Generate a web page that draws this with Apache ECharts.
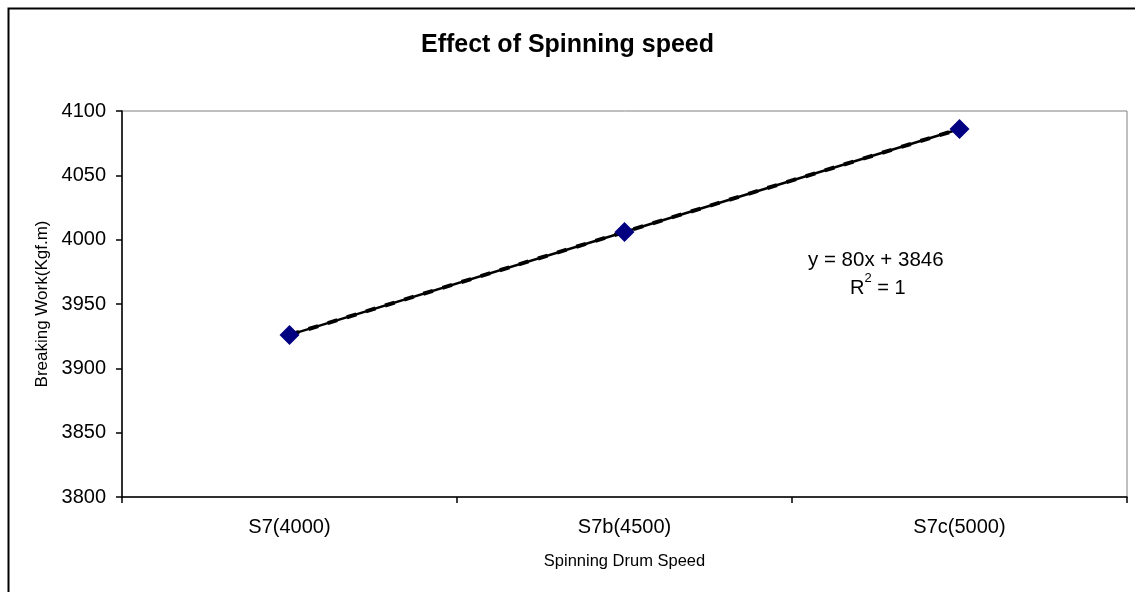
<!DOCTYPE html>
<html>
<head>
<meta charset="utf-8">
<script src="https://cdn.jsdelivr.net/npm/echarts@6/dist/echarts.min.js"></script>
<style>
html,body{margin:0;padding:0;background:#fff;}
#c{width:1135px;height:592px;}
</style>
</head>
<body>
<div id="c"></div>
<script>
var categories = ['S7(4000)', 'S7b(4500)', 'S7c(5000)'];
var breakingWork = [3926, 4006, 4086];
var trendValues = [3926, 4006, 4086];
var yTicks = [3800, 3850, 3900, 3950, 4000, 4050, 4100];

var chart = echarts.init(document.getElementById('c'), null, {renderer: 'canvas'});
var FONT = '"Liberation Sans", Arial, sans-serif';
chart.setOption({
  backgroundColor: '#ffffff',
  animation: false,
  title: {
    text: 'Effect of Spinning speed',
    left: 'center',
    top: 28,
    textStyle: {fontFamily: FONT, fontSize: 25, fontWeight: 'bold', color: '#000'}
  },
  grid: {
    left: 122, top: 111, right: 8, bottom: 95,
    show: true, borderColor: '#808080', borderWidth: 1, backgroundColor: '#fff'
  },
  xAxis: {
    type: 'category',
    data: categories,
    boundaryGap: true,
    name: 'Spinning Drum Speed',
    nameLocation: 'middle',
    nameGap: 56,
    nameTextStyle: {fontFamily: FONT, fontSize: 16.5, color: '#000'},
    axisLine: {lineStyle: {color: '#000', width: 1.5}},
    axisTick: {show: true, alignWithLabel: false, inside: false, length: 6, lineStyle: {color: '#000', width: 1.5}},
    axisLabel: {fontFamily: FONT, fontSize: 20, color: '#000', margin: 20},
    splitLine: {show: false}
  },
  yAxis: {
    type: 'value',
    min: yTicks[0],
    max: yTicks[yTicks.length - 1],
    interval: 50,
    name: 'Breaking Work(Kgf.m)',
    nameLocation: 'middle',
    nameGap: 71,
    nameRotate: 90,
    nameTextStyle: {fontFamily: FONT, fontSize: 17, color: '#000'},
    axisLine: {show: true, lineStyle: {color: '#000', width: 1.5}},
    axisTick: {show: true, length: 6, lineStyle: {color: '#000', width: 1.5}},
    axisLabel: {fontFamily: FONT, fontSize: 20, color: '#000', margin: 16,
      formatter: function (v) { return String(v); }},
    splitLine: {show: false}
  },
  series: [
    {
      name: 'Breaking Work',
      type: 'line',
      data: breakingWork,
      symbol: 'none',
      lineStyle: {color: '#000', width: 2.5},
      z: 2
    },
    {
      name: 'Trend',
      type: 'line',
      data: trendValues,
      symbol: 'none',
      lineStyle: {color: '#000', width: 4, type: [10, 10]},
      z: 3
    },
    {
      name: 'Points',
      type: 'line',
      data: breakingWork,
      symbol: 'diamond',
      symbolSize: 20,
      showSymbol: true,
      lineStyle: {width: 0, opacity: 0},
      itemStyle: {color: '#000080', borderColor: '#000080', borderWidth: 0},
      z: 4
    }
  ],
  graphic: [
    {
      type: 'rect', left: 6, top: 6, z: -10, silent: true,
      shape: {width: 1140, height: 600},
      style: {fill: 'none', stroke: '#000', lineWidth: 2}
    },
    {
      type: 'text', left: 808, top: 250, z: 10,
      style: {text: 'y = 80x + 3846', font: '20.5px ' + FONT, fill: '#000'}
    },
    {
      type: 'text', left: 850, top: 272, z: 10,
      style: {
        text: '{b|R}{s|2}{b| = 1}',
        font: '20px ' + FONT,
        fill: '#000',
        rich: {
          b: {fontFamily: FONT, fontSize: 20, color: '#000', verticalAlign: 'bottom', lineHeight: 26},
          s: {fontFamily: FONT, fontSize: 13, color: '#000', verticalAlign: 'top', lineHeight: 26, padding: [0, 0, 12, 0]}
        }
      }
    }
  ]
});
</script>
</body>
</html>
